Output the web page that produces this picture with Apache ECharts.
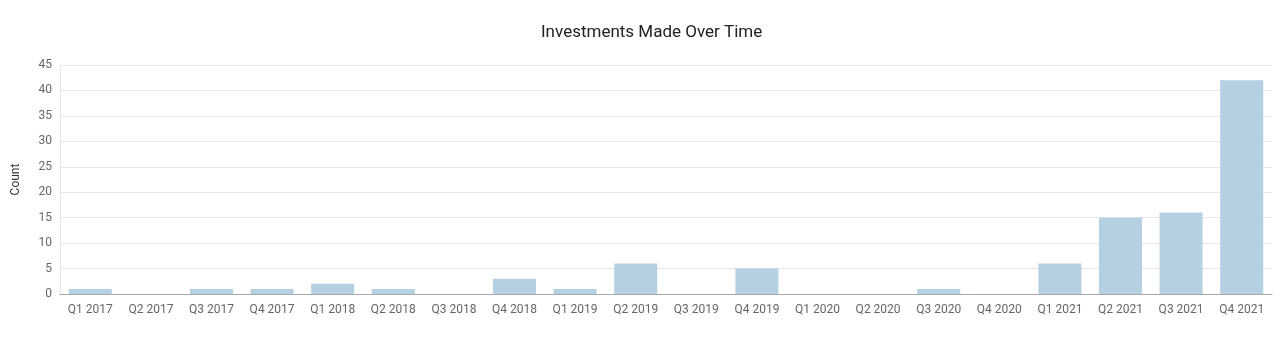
<!DOCTYPE html>
<html>
<head>
<meta charset="utf-8">
<style>
  html, body { margin: 0; padding: 0; background: #fff; }
  #chart { width: 1280px; height: 343px; }
</style>
<script src="https://cdn.jsdelivr.net/npm/echarts@6/dist/echarts.min.js"></script>
</head>
<body>
<div id="chart"></div>
<script>
// Quarterly investment counts
const quarters = [
  'Q1 2017', 'Q2 2017', 'Q3 2017', 'Q4 2017',
  'Q1 2018', 'Q2 2018', 'Q3 2018', 'Q4 2018',
  'Q1 2019', 'Q2 2019', 'Q3 2019', 'Q4 2019',
  'Q1 2020', 'Q2 2020', 'Q3 2020', 'Q4 2020',
  'Q1 2021', 'Q2 2021', 'Q3 2021', 'Q4 2021'
];
const counts = [1, 0, 1, 1, 2, 1, 0, 3, 1, 6, 0, 5, 0, 0, 1, 0, 6, 15, 16, 42];

const chart = echarts.init(document.getElementById('chart'));
chart.setOption({
  animation: false,
  textStyle: { fontFamily: 'Roboto' },
  title: {
    text: 'Investments Made Over Time',
    left: 536,
    top: 19,
    textStyle: { fontFamily: 'Roboto', fontSize: 17, fontWeight: 'normal', color: '#222' }
  },
  grid: { left: 60, right: 8, top: 65, bottom: 49, containLabel: false },
  xAxis: {
    type: 'category',
    data: quarters,
    axisLine: { lineStyle: { color: '#aaa' } },
    axisTick: { show: false },
    axisLabel: { color: '#666', fontSize: 12, margin: 10, interval: 0 }
  },
  yAxis: {
    type: 'value',
    name: 'Count',
    nameLocation: 'middle',
    nameGap: 38,
    nameTextStyle: { color: '#333', fontSize: 12 },
    min: 0,
    max: 45,
    interval: 5,
    axisLine: { show: true, lineStyle: { color: '#e6e6e6' } },
    axisTick: { show: false },
    axisLabel: { color: '#666', fontSize: 12, margin: 8 },
    splitLine: { lineStyle: { color: '#e6e6e6' } }
  },
  series: [{
    type: 'bar',
    data: counts,
    barWidth: '71%',
    itemStyle: { color: '#b5d0e1' }
  }]
});
</script>
</body>
</html>
